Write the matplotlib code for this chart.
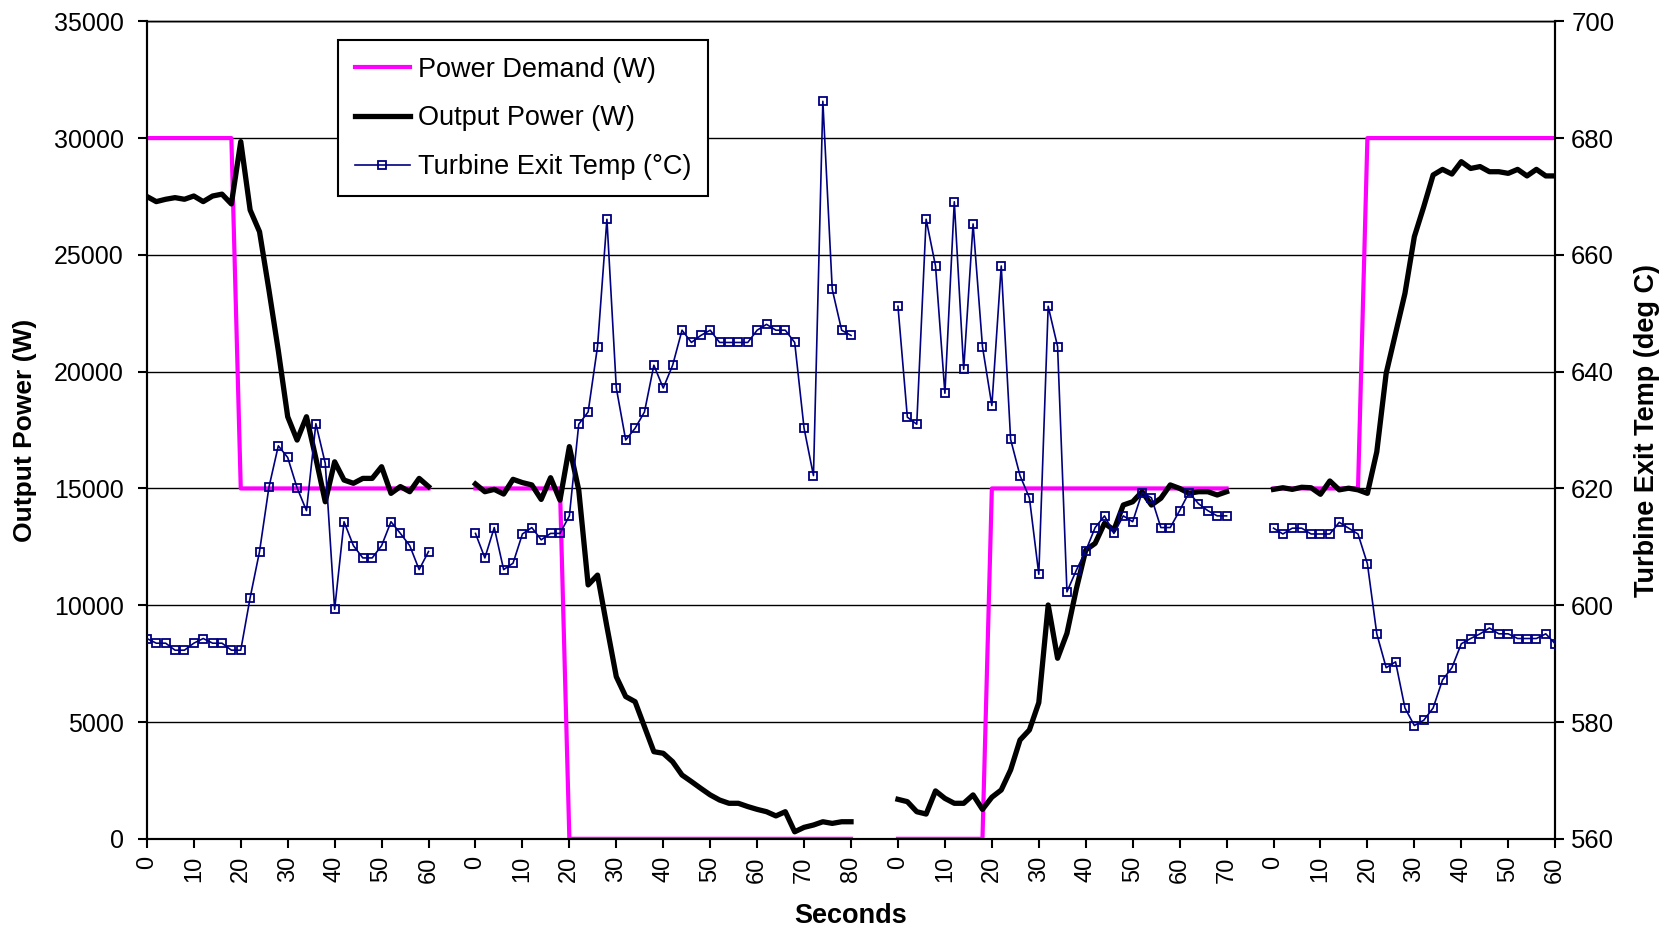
import numpy as np
import matplotlib
matplotlib.use("Agg")
import matplotlib.pyplot as plt

plt.rcParams['font.family'] = ['Liberation Sans', 'DejaVu Sans']

# ---------------- data (four test runs, sampled every 2 s) ----------------
seconds_1 = [0, 2, 4, 6, 8, 10, 12, 14, 16, 18, 20, 22, 24, 26, 28, 30, 32, 34, 36, 38, 40,
             42, 44, 46, 48, 50, 52, 54, 56, 58, 60]
demand_1 = [30000, 30000, 30000, 30000, 30000, 30000, 30000, 30000, 30000, 30000,
            15000, 15000, 15000, 15000, 15000, 15000, 15000, 15000, 15000, 15000,
            15000, 15000, 15000, 15000, 15000, 15000, 15000, 15000, 15000, 15000, 15000]
output_1 = [27500, 27280, 27380, 27450, 27380, 27520, 27280, 27520, 27600, 27180,
            29850, 26920, 25990, 23500, 20900, 18070, 17070, 18070, 16290, 14430,
            16140, 15360, 15220, 15430, 15430, 15930, 14790, 15080, 14860, 15430, 15080]
temp_1 = [594.3, 593.5, 593.5, 592.3, 592.3, 593.5, 594.3, 593.5, 593.5, 592.3,
          592.3, 601.3, 609.2, 620.2, 627.3, 625.3, 620.1, 616.2, 631.1, 624.3,
          599.3, 614.3, 610.2, 608.1, 608.1, 610.2, 614.3, 612.3, 610.2, 606.1, 609.2]

seconds_2 = [0, 2, 4, 6, 8, 10, 12, 14, 16, 18, 20, 22, 24, 26, 28, 30, 32, 34, 36, 38, 40,
             42, 44, 46, 48, 50, 52, 54, 56, 58, 60, 62, 64, 66, 68, 70, 72, 74, 76, 78, 80]
demand_2 = [15000, 15000, 15000, 15000, 15000, 15000, 15000, 15000, 15000, 15000,
            0, 0, 0, 0, 0, 0, 0, 0, 0, 0, 0, 0, 0, 0, 0, 0, 0, 0, 0, 0,
            0, 0, 0, 0, 0, 0, 0, 0, 0, 0, 0]
output_2 = [15190, 14860, 14960, 14760, 15390, 15250, 15150, 14530, 15460, 14500,
            16790, 14930, 10870, 11290, 9080, 6940, 6090, 5870, 4800, 3730,
            3660, 3300, 2730, 2450, 2160, 1880, 1660, 1520, 1520, 1380,
            1260, 1160, 980, 1160, 300, 490, 590, 730, 660, 730, 730]
temp_2 = [612.3, 608.1, 613.3, 606.1, 607.2, 612.2, 613.3, 611.2, 612.3, 612.3,
          615.3, 631.0, 633.1, 644.3, 666.1, 637.2, 628.3, 630.3, 633.1, 641.1,
          637.2, 641.1, 647.1, 645.0, 646.2, 647.1, 645.0, 645.0, 645.0, 645.0,
          647.1, 648.1, 647.1, 647.1, 645.0, 630.3, 622.2, 686.3, 654.1, 647.1, 646.2]

seconds_3 = [0, 2, 4, 6, 8, 10, 12, 14, 16, 18, 20, 22, 24, 26, 28, 30, 32, 34, 36, 38, 40,
             42, 44, 46, 48, 50, 52, 54, 56, 58, 60, 62, 64, 66, 68, 70]
demand_3 = [0, 0, 0, 0, 0, 0, 0, 0, 0, 0,
            15000, 15000, 15000, 15000, 15000, 15000, 15000, 15000, 15000, 15000,
            15000, 15000, 15000, 15000, 15000, 15000, 15000, 15000, 15000, 15000,
            15000, 15000, 15000, 15000, 15000, 15000]
output_3 = [1690, 1590, 1160, 1060, 2050, 1730, 1520, 1520, 1880, 1260,
            1780, 2090, 2950, 4230, 4660, 5830, 10010, 7730, 8800, 10700,
            12360, 12650, 13510, 13220, 14290, 14430, 14860, 14290, 14580, 15150,
            15000, 14790, 14860, 14860, 14720, 14860]
temp_3 = [651.2, 632.2, 631.0, 666.1, 658.1, 636.3, 669.1, 640.4, 665.3, 644.3,
          634.2, 658.1, 628.4, 622.2, 618.4, 605.3, 651.2, 644.3, 602.3, 606.0,
          609.3, 613.3, 615.3, 612.3, 615.3, 614.3, 619.3, 618.4, 613.3, 613.3,
          616.2, 619.3, 617.4, 616.2, 615.3, 615.3]

seconds_4 = [0, 2, 4, 6, 8, 10, 12, 14, 16, 18, 20, 22, 24, 26, 28, 30, 32, 34, 36, 38, 40,
             42, 44, 46, 48, 50, 52, 54, 56, 58, 60]
demand_4 = [15000, 15000, 15000, 15000, 15000, 15000, 15000, 15000, 15000, 15000,
            30000, 30000, 30000, 30000, 30000, 30000, 30000, 30000, 30000, 30000,
            30000, 30000, 30000, 30000, 30000, 30000, 30000, 30000, 30000, 30000, 30000]
output_4 = [14960, 15030, 14960, 15050, 15030, 14750, 15320, 14940, 15010, 14940,
            14790, 16570, 19930, 21640, 23350, 25780, 27060, 28420, 28660, 28460,
            28990, 28700, 28780, 28560, 28560, 28490, 28660, 28380, 28660, 28380, 28380]
temp_4 = [613.2, 612.2, 613.2, 613.2, 612.2, 612.2, 612.2, 614.2, 613.2, 612.2,
          607.1, 595.1, 589.3, 590.3, 582.4, 579.4, 580.3, 582.4, 587.2, 589.3,
          593.4, 594.3, 595.1, 596.1, 595.1, 595.1, 594.3, 594.3, 594.3, 595.1, 593.4]

power_ticks = [0, 5000, 10000, 15000, 20000, 25000, 30000, 35000]
temp_ticks = [560, 580, 600, 620, 640, 660, 680, 700]

# ---------------- category axis: segments separated by blank categories ----------------
GAP = 4


def join(parts, blank):
    out = []
    for n, p in enumerate(parts):
        if n:
            out += [blank] * GAP
        out += list(p)
    return out


demand = np.array(join([demand_1, demand_2, demand_3, demand_4], np.nan), float)
output = np.array(join([output_1, output_2, output_3, output_4], np.nan), float)
temp = np.array(join([temp_1, temp_2, temp_3, temp_4], np.nan), float)
secs = join([seconds_1, seconds_2, seconds_3, seconds_4], None)
x = np.arange(len(secs))

tick_pos = [i for i, s in enumerate(secs) if s is not None and s % 10 == 0]
tick_lab = [str(secs[i]) for i in tick_pos]

# ---------------- figure ----------------
fig = plt.figure(figsize=(16.69, 9.32), dpi=100)
ax1 = fig.add_axes([0.088, 0.1, 0.9318 - 0.088, 0.97715 - 0.1])
ax2 = ax1.twinx()

l1, = ax1.plot(x, demand, color='#FF00FF', lw=3.0, label='Power Demand (W)', zorder=3)
l2, = ax1.plot(x, output, color='black', lw=3.8, label='Output Power (W)', zorder=4)
l3, = ax2.plot(x, temp, color='#000080', lw=1.2, marker='s', ms=6, mfc='none',
               mec='#000080', mew=1.3, label='Turbine Exit Temp (\u00b0C)', zorder=5)

ax1.set_xlim(0, len(secs) - 1)
ax1.set_ylim(0, 35000)
ax2.set_ylim(560, 700)
ax1.set_yticks(power_ticks)
ax2.set_yticks(temp_ticks)
ax1.set_xticks(tick_pos)
ax1.set_xticklabels(tick_lab, rotation=90, fontsize=17)
ax1.tick_params(axis='x', which='major', length=6.5, width=1.5, pad=6, direction='out')
ax1.tick_params(axis='y', which='major', length=6.5, width=1.5, pad=10, labelsize=18, direction='out')
ax2.tick_params(axis='y', which='major', length=6.5, width=1.5, pad=5, labelsize=18.5, direction='out')

ax1.yaxis.grid(True, color='black', lw=1.0)
ax1.set_axisbelow(True)
for ax in (ax1, ax2):
    for sp in ax.spines.values():
        sp.set_linewidth(1.5)
        sp.set_color('black')
ax1.spines['top'].set_linewidth(1.0)
ax2.spines['top'].set_linewidth(1.0)

ax1.set_ylabel('Output Power (W)', fontsize=19, fontweight='bold')
ax1.yaxis.set_label_coords(-0.078, 0.5)
ax2.set_ylabel('Turbine Exit Temp (deg C)', fontsize=19.5, fontweight='bold', rotation=90)
ax2.yaxis.set_label_coords(1.056, 0.5)
ax1.set_xlabel('Seconds', fontsize=19.5, fontweight='bold')
ax1.xaxis.set_label_coords(0.5, -0.079)

leg = ax2.legend(handles=[l1, l2, l3], loc='upper left', bbox_to_anchor=(0.136, 0.9766),
                 borderaxespad=0, fontsize=19.5, frameon=True, fancybox=False,
                 edgecolor='black', framealpha=1, handlelength=2.05, handletextpad=0.3,
                 borderpad=0.6, labelspacing=0.84)
leg.get_frame().set_linewidth(1.5)

fig.savefig('out.png', dpi=100)
